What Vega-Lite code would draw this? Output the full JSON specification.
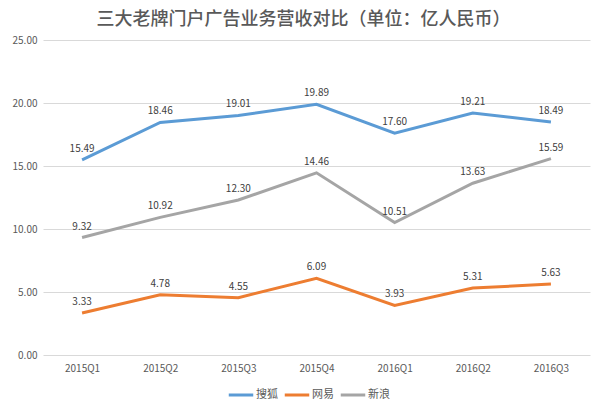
{
  "$schema": "https://vega.github.io/schema/vega-lite/v6.json",
  "width": 547,
  "height": 315,
  "autosize": {"type": "none"},
  "padding": {"left": 43, "top": 40, "right": 10, "bottom": 57},
  "background": "white",
  "title": {
    "text": "三大老牌门户广告业务营收对比（单位：亿人民币）",
    "font": "Noto Sans CJK SC",
    "fontSize": 18,
    "fontWeight": 500,
    "color": "#595959",
    "anchor": "middle",
    "dx": -13,
    "offset": 6
  },
  "config": {
    "view": {"stroke": null},
    "font": "Noto Sans CJK SC"
  },
  "data": {
    "values": [
      {"q": "2015Q1", "s": "搜狐", "v": 15.49},
      {"q": "2015Q2", "s": "搜狐", "v": 18.46},
      {"q": "2015Q3", "s": "搜狐", "v": 19.01},
      {"q": "2015Q4", "s": "搜狐", "v": 19.89},
      {"q": "2016Q1", "s": "搜狐", "v": 17.60},
      {"q": "2016Q2", "s": "搜狐", "v": 19.21},
      {"q": "2016Q3", "s": "搜狐", "v": 18.49},
      {"q": "2015Q1", "s": "网易", "v": 3.33},
      {"q": "2015Q2", "s": "网易", "v": 4.78},
      {"q": "2015Q3", "s": "网易", "v": 4.55},
      {"q": "2015Q4", "s": "网易", "v": 6.09},
      {"q": "2016Q1", "s": "网易", "v": 3.93},
      {"q": "2016Q2", "s": "网易", "v": 5.31},
      {"q": "2016Q3", "s": "网易", "v": 5.63},
      {"q": "2015Q1", "s": "新浪", "v": 9.32},
      {"q": "2015Q2", "s": "新浪", "v": 10.92},
      {"q": "2015Q3", "s": "新浪", "v": 12.30},
      {"q": "2015Q4", "s": "新浪", "v": 14.46},
      {"q": "2016Q1", "s": "新浪", "v": 10.51},
      {"q": "2016Q2", "s": "新浪", "v": 13.63},
      {"q": "2016Q3", "s": "新浪", "v": 15.59}
    ]
  },
  "encoding": {
    "x": {
      "field": "q", "type": "ordinal", "title": null,
      "scale": {"type": "point", "padding": 0.5},
      "axis": {"labelAngle": 0, "domain": false, "ticks": false, "labelColor": "#595959", "labelFontSize": 10, "labelPadding": 8, "grid": false}
    },
    "y": {
      "field": "v", "type": "quantitative", "title": null,
      "scale": {"domain": [0, 25]},
      "axis": {"values": [0, 5, 10, 15, 20, 25], "format": ".2f", "domain": false, "ticks": false, "labelColor": "#595959", "labelFontSize": 10, "labelPadding": 6, "gridColor": "#d9d9d9", "gridWidth": 1}
    },
    "color": {
      "field": "s", "type": "nominal", "title": null,
      "scale": {"domain": ["搜狐", "网易", "新浪"], "range": ["#5B9BD5", "#ED7D31", "#A5A5A5"]},
      "legend": {
        "orient": "none", "direction": "horizontal", "legendX": 184, "legendY": 341,
        "symbolType": "stroke", "symbolStrokeWidth": 3, "symbolSize": 600,
        "labelFontSize": 11, "labelColor": "#595959", "columnPadding": 0, "labelOffset": 1
      }
    }
  },
  "layer": [
    {"mark": {"type": "line", "strokeWidth": 3}},
    {
      "mark": {"type": "text", "dy": -11, "fontSize": 10, "color": "#404040"},
      "encoding": {
        "text": {"field": "v", "type": "quantitative", "format": ".2f"},
        "color": {"value": "#404040"}
      }
    }
  ]
}
